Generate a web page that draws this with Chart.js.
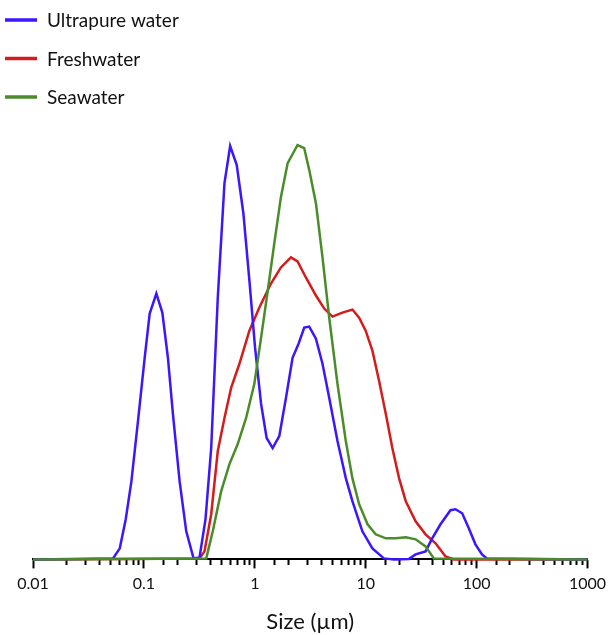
<!DOCTYPE html>
<html>
<head>
<meta charset="utf-8">
<script src="https://cdn.jsdelivr.net/npm/chart.js@4/dist/chart.umd.min.js"></script>
<style>
  html, body { margin: 0; padding: 0; background: #fff; }
  #wrap { width: 612px; height: 635px; position: relative; }
</style>
</head>
<body>
<div id="wrap"><canvas id="chart"></canvas></div>
<script>
// Size axis (µm), log scale
const xTickLabels = ['0.01', '0.1', '1', '10', '100', '1000'];

// Ultrapure water
const ultraSizes = [0.01, 0.0527, 0.0606, 0.0686, 0.0772, 0.0885, 0.1017, 0.1128, 0.1295, 0.1467, 0.1647, 0.1827, 0.2099, 0.241, 0.2805, 0.3175,
  0.3594, 0.4046, 0.4639, 0.533, 0.5997, 0.6877, 0.789, 0.894, 1.006, 1.14, 1.279, 1.449, 1.664, 1.911, 2.192, 2.482, 2.793, 3.097, 3.56,
  4.08, 4.69, 5.57, 6.62, 7.59, 9.34, 11.5, 14.6, 18.0, 24.6, 28.2, 34.7, 39.8, 47.3, 58.2, 64.6, 74.2, 85.1, 97.7, 112, 124, 1000];
const ultraVals = [0, 1, 11, 40, 78, 138, 201, 245, 265, 246, 201, 145, 78, 28, 1, 2,
  40, 111, 261, 375, 412, 393, 345, 278, 211, 155, 121, 111, 123, 161, 201, 215, 231, 232, 220,
  195, 161, 118, 81, 58, 28, 11, 1, 0, 0.5, 5, 8, 21, 35, 49, 50, 46, 31, 15, 5, 1, 0];

// Freshwater
const freshSizes = [0.01, 0.3175, 0.352, 0.4046, 0.4639, 0.533, 0.612, 0.727, 0.894, 1.10, 1.40, 1.72, 2.12, 2.43, 2.89, 3.56, 4.23, 5.02,
  6.17, 7.59, 8.73, 10.0, 11.5, 13.2, 15.2, 17.4, 20.0, 23.0, 28.2, 34.7, 42.7, 52.5, 62.4, 1000];
const freshVals = [0, 1, 8, 45, 108, 141, 171, 195, 228, 251, 275, 291, 301, 297, 281, 263, 250, 242,
  246, 249, 241, 228, 208, 178, 145, 111, 81, 58, 38, 25, 16, 3, 0, 0];

// Seawater
const seaSizes = [0.01, 0.365, 0.418, 0.498, 0.591, 0.702, 0.835, 0.991, 1.14, 1.31, 1.50, 1.72, 1.98, 2.43, 2.79, 3.10, 3.56, 4.08, 4.69,
  5.57, 6.62, 7.59, 8.73, 10.4, 12.3, 15.2, 18.7, 23.0, 28.2, 34.7, 41.2, 1000];
const seaVals = [0, 1, 28, 68, 95, 115, 141, 175, 221, 268, 315, 361, 395, 413, 410, 388, 355, 301, 241,
  175, 118, 81, 55, 35, 25, 21, 21, 22, 20, 13, 1, 0];

const FONT = 'Lato, "Liberation Sans", sans-serif';

function pts(xs, ys){ return xs.map((x, i) => ({ x: x, y: ys[i] })); }
function isDecade(v){ const lg = Math.log10(v); return Math.abs(lg - Math.round(lg)) < 1e-6; }

const series = [
  { label: 'Ultrapure water', color: '#3a17ff', data: pts(ultraSizes, ultraVals), order: 1 },
  { label: 'Freshwater', color: '#d41c1c', data: pts(freshSizes, freshVals), order: 2 },
  { label: 'Seawater', color: '#4b8c2a', data: pts(seaSizes, seaVals), order: 0 }
];

// legend drawn top-left, stacked
const legendPlugin = {
  id: 'stackLegend',
  afterDraw(chart){
    const ctx = chart.ctx;
    ctx.save();
    series.forEach((s, i) => {
      const y = 20 + i * 38.5;
      ctx.strokeStyle = s.color;
      ctx.lineWidth = 3.5;
      ctx.beginPath(); ctx.moveTo(5, y); ctx.lineTo(37, y); ctx.stroke();
      ctx.fillStyle = '#111';
      ctx.font = '19px ' + FONT;
      ctx.textBaseline = 'middle';
      ctx.fillText(s.label, 47, y + 1);
    });
    ctx.restore();
  }
};

new Chart(document.getElementById('chart'), {
  type: 'line',
  data: {
    datasets: series.map(s => ({
      label: s.label,
      data: s.data,
      borderColor: s.color,
      borderWidth: 2.5,
      pointRadius: 0,
      tension: 0,
      fill: false,
      clip: false,
      order: s.order
    }))
  },
  options: {
    responsive: true,
    maintainAspectRatio: false,
    animation: false,
    events: [],
    layout: { padding: { top: 140, left: 33, right: 23, bottom: 0 } },
    plugins: { legend: { display: false }, tooltip: { enabled: false } },
    scales: {
      x: {
        type: 'logarithmic',
        min: 0.01, max: 1000,
        grid: {
          display: true, drawOnChartArea: false, drawTicks: true, tickLength: 9, tickWidth: 2, tickColor: '#000',
          // minor ticks: dash keeps only the first few px
          tickBorderDash: (c) => (c.tick && isDecade(c.tick.value)) ? [] : [5, 30]
        },
        border: { display: true, color: '#000', width: 2 },
        ticks: {
          autoSkip: false, maxRotation: 0, padding: 6,
          color: '#111', font: { family: FONT, size: 16 },
          callback: (v) => isDecade(v) ? xTickLabels[Math.round(Math.log10(v)) + 2] : ''
        },
        title: { display: true, text: 'Size (µm)', color: '#111', font: { family: FONT, size: 22 }, padding: { top: 9, bottom: 0 } }
      },
      y: { display: false, min: 0, max: 418 }
    }
  },
  plugins: [legendPlugin]
});
</script>
</body>
</html>
